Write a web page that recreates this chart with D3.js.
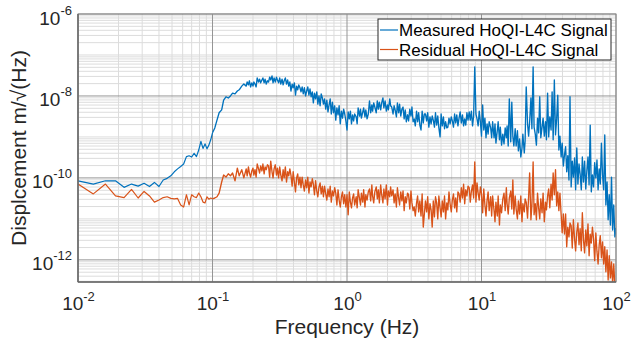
<!DOCTYPE html>
<html><head><meta charset="utf-8">
<script src="https://cdn.jsdelivr.net/npm/d3@7"></script>
<style>body{margin:0;background:#fff}svg{display:block;font-family:"Liberation Sans",Arial,Helvetica,sans-serif}</style>
</head><body><svg id="c" width="632" height="339"></svg>
<script>
// ---- data (frequency in Hz, amplitude as log10 of m/sqrt(Hz)) ----
const frequencies = [
0.010,0.013,0.016,0.019,0.022,0.025,0.028,0.031,0.034,0.037,
0.040,0.043,0.046,0.049,0.052,0.055,0.058,0.061,0.064,0.067,
0.070,0.073,0.076,0.079,0.082,0.085,0.088,0.091,0.094,0.097,
0.100,0.104,0.108,0.112,0.117,0.121,0.126,0.131,0.136,0.141,0.147,0.153,0.158,0.165,0.171,
0.178,0.181,0.185,0.188,0.192,0.196,0.200,0.203,0.207,0.211,
0.215,0.220,0.224,0.228,0.233,0.237,0.242,0.246,0.251,0.256,
0.261,0.266,0.271,0.277,0.282,0.287,0.293,0.299,0.304,0.310,
0.316,0.322,0.329,0.335,0.341,0.348,0.355,0.362,0.369,0.376,
0.383,0.391,0.398,0.406,0.414,0.422,0.430,0.438,0.447,0.455,
0.464,0.473,0.482,0.492,0.501,0.511,0.521,0.531,0.541,0.552,
0.562,0.573,0.584,0.596,0.607,0.619,0.631,0.643,0.656,0.668,
0.681,0.695,0.708,0.722,0.736,0.750,0.764,0.779,0.794,0.810,
0.825,0.841,0.858,0.874,0.891,0.909,0.926,0.944,0.962,0.981,
1.00,1.02,1.04,1.06,1.08,1.10,1.12,1.14,1.17,1.19,1.21,1.24,1.26,1.28,1.31,1.33,1.36,1.38,1.41,1.44,
1.47,1.50,1.53,1.55,1.58,1.61,1.65,1.68,1.71,1.74,1.78,1.81,1.85,1.88,1.92,1.96,2.00,2.03,2.08,2.11,
2.15,2.20,2.24,2.28,2.33,2.37,2.42,2.46,2.51,2.56,2.61,2.66,2.71,2.76,2.82,2.87,2.93,2.99,3.04,3.10,
3.16,3.22,3.29,3.35,3.41,3.48,3.55,3.62,3.69,3.76,3.83,3.91,3.98,4.06,4.14,4.22,4.30,4.38,4.47,4.55,
4.64,4.73,4.82,4.92,5.01,5.11,5.21,5.31,5.41,5.52,5.62,5.73,5.84,5.96,6.07,6.19,6.31,6.43,6.55,6.68,
6.81,6.94,7.08,7.22,7.36,7.50,7.64,7.79,7.94,8.10,8.25,8.41,8.58,8.74,8.91,9.09,9.26,9.44,9.62,9.81,
10.0,10.2,10.4,10.6,10.8,11.0,11.2,11.4,11.7,11.9,12.1,12.4,12.6,12.8,13.1,13.3,13.6,13.8,14.1,14.4,
14.7,15.0,15.3,15.5,15.8,16.1,16.5,16.8,17.1,17.4,17.8,18.1,18.5,18.8,19.2,19.6,20.0,20.3,20.8,21.1,
21.5,22.0,22.4,22.8,23.3,23.7,24.2,24.6,25.1,25.6,26.1,26.6,27.1,27.6,28.2,28.7,29.3,29.9,30.4,31.0,
31.6,32.2,32.9,33.5,34.1,34.8,35.5,36.2,36.9,37.6,38.3,39.1,39.8,40.6,41.4,42.2,43.0,43.8,44.7,45.5,
46.4,47.3,48.2,49.2,50.1,51.1,52.1,53.1,54.1,55.2,56.2,57.3,58.4,59.6,60.7,61.9,63.1,64.3,65.5,66.8,
68.1,69.4,70.8,72.2,73.6,75.0,76.4,77.9,79.4,81.0,82.5,84.1,85.8,87.4,89.1,90.9,92.6,94.4,96.2,98.1,100
];
const measuredLog10 = [
-10.07,-10.15,-10.07,-10.07,-10.23,-10.15,-10.20,-10.13,-10.21,-10.11,
-10.21,-10.05,-10.01,-9.95,-9.85,-9.78,-9.72,-9.66,-9.48,-9.46,
-9.49,-9.40,-9.48,-9.32,-9.11,-9.28,-9.17,-9.29,-9.20,-9.07,
-8.90,-8.78,-8.59,-8.41,-8.34,-8.10,-8.02,-8.05,-8.00,-7.93,-7.95,-7.88,-7.85,-7.76,-7.71,
-7.76,-7.66,-7.73,-7.63,-7.78,-7.68,-7.76,-7.66,-7.71,-7.78,
-7.56,-7.66,-7.59,-7.68,-7.61,-7.56,-7.68,-7.59,-7.71,-7.63,
-7.66,-7.54,-7.61,-7.51,-7.68,-7.56,-7.66,-7.54,-7.61,-7.68,
-7.56,-7.71,-7.59,-7.73,-7.63,-7.56,-7.71,-7.61,-7.76,-7.66,
-7.88,-7.71,-7.80,-7.68,-7.98,-7.76,-7.85,-7.73,-7.80,-7.90,
-7.78,-7.95,-7.80,-8.00,-7.88,-7.78,-7.98,-7.83,-8.02,-7.90,
-8.17,-7.93,-8.07,-7.90,-8.20,-8.00,-8.24,-7.95,-8.05,-8.20,
-8.07,-8.32,-8.10,-8.39,-8.22,-8.07,-8.44,-8.15,-8.41,-8.24,
-8.59,-8.29,-8.46,-8.24,-8.68,-8.37,-8.54,-8.32,-8.44,-8.61,
-8.83,-8.39,-8.56,-8.37,-8.68,-8.46,-8.61,-8.44,-8.51,-8.68,
-8.29,-8.49,-8.32,-8.54,-8.39,-8.29,-8.51,-8.34,-8.56,-8.44,
-8.12,-8.41,-8.22,-8.37,-8.17,-8.27,-8.41,-8.12,-8.32,-8.15,
-8.34,-8.17,-8.05,-8.29,-8.12,-8.37,-8.22,-8.34,-8.07,-8.24,
-8.27,-8.44,-8.24,-8.34,-8.51,-8.17,-8.41,-8.20,-8.49,-8.32,
-8.27,-8.56,-8.34,-8.63,-8.46,-8.61,-8.32,-8.49,-8.27,-8.63,
-8.56,-8.73,-8.37,-8.63,-8.41,-8.71,-8.83,-8.37,-8.66,-8.44,
-8.44,-8.61,-8.41,-8.76,-8.51,-8.68,-8.49,-8.59,-8.76,-8.41,
-8.71,-8.49,-8.78,-9.00,-8.44,-8.73,-8.51,-8.80,-8.63,-8.78,
-8.76,-8.54,-8.68,-8.51,-8.61,-8.76,-8.44,-8.66,-8.46,-8.73,
-8.54,-8.39,-8.66,-8.46,-8.73,-8.56,-8.71,-8.41,-8.59,-8.39,
-8.59,-8.37,-8.73,-8.49,-7.29,-8.44,-8.56,-8.73,-8.37,-8.63,
-8.98,-8.22,-8.83,-8.54,-9.02,-8.68,-8.93,-8.63,-8.78,-9.02,
-8.63,-9.02,-8.68,-9.15,-8.85,-8.63,-9.07,-8.76,-9.20,-8.93,
-9.17,-8.78,-9.02,-8.73,-9.22,-8.07,-9.12,-8.15,-8.98,-9.22,
-8.80,-9.22,-8.85,-9.34,-9.05,-9.49,-9.27,-8.93,-9.39,-9.10,
-7.78,-8.68,-8.98,-8.63,-8.05,-8.80,-7.29,-8.76,-8.93,-9.20,
-8.54,-8.90,-8.02,-9.02,-8.76,-8.54,-8.98,-8.63,-9.07,-7.93,
-9.00,-8.51,-8.83,-7.90,-9.07,-7.61,-8.95,-8.56,-7.98,-9.32,
-8.98,-9.49,-9.15,-9.71,-9.44,-9.24,-9.85,-9.46,-10.05,-8.02,
-10.22,-9.59,-9.98,-9.51,-10.29,-9.27,-10.15,-9.66,-9.90,-10.29,
-9.49,-10.10,-9.59,-10.27,-9.83,-9.49,-10.17,-8.71,-10.34,-9.93,
-10.22,-9.63,-10.00,-9.56,-10.29,-9.78,-10.15,-9.15,-9.93,-10.29,
-8.95,-10.66,-10.10,-11.02,-10.41,-11.15,-9.98,-11.27,-10.66,-11.44,-11.22
];
const residualLog10 = [
-10.15,-10.39,-10.15,-10.44,-10.48,-10.28,-10.49,-10.33,-10.44,-10.59,
-10.54,-10.48,-10.46,-10.50,-10.51,-10.50,-10.66,-10.71,-10.41,-10.66,
-10.41,-10.46,-10.48,-10.37,-10.46,-10.59,-10.61,-10.46,-10.52,-10.49,
-10.51,-10.49,-10.46,-10.37,-10.10,-9.93,-9.98,-9.90,-9.95,-9.88,-10.07,-9.76,-9.95,-9.80,-10.00,
-9.78,-9.95,-9.73,-9.88,-9.98,-9.83,-9.76,-9.93,-9.80,-9.98,
-9.66,-9.78,-9.88,-9.71,-9.83,-9.66,-9.90,-9.73,-9.80,-9.68,
-9.71,-9.98,-9.59,-9.85,-10.00,-9.78,-9.68,-9.93,-9.76,-10.00,
-9.73,-9.93,-10.07,-9.80,-10.00,-9.73,-10.10,-9.85,-9.95,-9.78,
-9.93,-10.20,-9.85,-10.10,-10.34,-10.00,-9.90,-10.17,-9.98,-10.24,
-9.98,-10.17,-10.32,-10.05,-10.24,-9.98,-10.37,-10.10,-10.22,-10.02,
-10.15,-10.41,-10.07,-10.32,-10.46,-10.22,-10.12,-10.39,-10.20,-10.46,
-10.20,-10.39,-10.54,-10.27,-10.46,-10.20,-10.59,-10.32,-10.44,-10.24,
-10.37,-10.66,-10.29,-10.54,-10.71,-10.46,-10.34,-10.63,-10.41,-10.71,
-10.41,-10.90,-10.34,-10.59,-10.73,-10.49,-10.39,-10.66,-10.46,-10.73,
-10.29,-10.51,-10.66,-10.37,-10.59,-10.29,-10.71,-10.41,-10.54,-10.34,
-10.27,-10.56,-10.17,-10.44,-10.61,-10.34,-10.22,-10.51,-10.29,-10.61,
-10.17,-10.41,-10.61,-10.27,-10.51,-10.17,-10.66,-10.32,-10.46,-10.22,
-10.44,-10.29,-10.61,-10.39,-10.71,-10.24,-10.49,-10.66,-10.34,-10.56,
-10.32,-10.80,-10.46,-10.61,-10.37,-10.41,-10.76,-10.32,-10.61,-10.80,
-10.71,-10.93,-10.61,-10.44,-10.83,-10.56,-10.93,-10.39,-11.20,-10.88,
-10.56,-10.83,-10.46,-11.00,-10.63,-10.78,-11.20,-10.56,-10.95,-10.46,
-10.61,-11.00,-10.44,-10.73,-10.95,-10.56,-10.83,-10.44,-11.00,-10.61,
-10.78,-10.34,-10.63,-10.83,-10.54,-10.39,-10.73,-10.49,-10.83,-10.34,
-10.39,-10.59,-10.24,-10.49,-10.15,-10.63,-10.29,-10.44,-10.20,-10.24,
-10.59,-10.32,-10.17,-10.49,-9.61,-10.59,-10.12,-10.37,-10.54,-10.22,
-10.39,-10.85,-10.27,-10.66,-10.93,-10.54,-10.34,-10.80,-10.46,-10.93,
-10.44,-10.80,-11.07,-10.59,-10.93,-10.44,-11.15,-10.66,-10.85,-10.51,
-10.37,-10.80,-10.24,-10.63,-10.88,-10.49,-10.32,-10.76,-10.05,-10.88,
-10.44,-10.76,-11.00,-10.56,-10.88,-10.44,-11.07,-10.63,-10.83,-10.51,
-10.59,-10.98,-10.46,-9.88,-11.02,-10.68,-9.61,-10.90,-10.63,-11.02,
-10.37,-10.73,-11.00,-10.51,-10.85,-10.37,-11.07,-10.59,-10.78,-10.44,
-10.27,-10.73,-10.15,-10.54,-9.88,-10.41,-9.80,-10.68,-10.34,-10.80,
-10.37,-10.90,-11.34,-10.88,-11.37,-10.88,-11.68,-11.20,-11.44,-11.10,
-11.17,-11.71,-11.02,-11.49,-11.78,-11.32,-11.10,-11.63,-11.24,-11.78,
-10.85,-11.51,-11.83,-11.27,-11.66,-11.12,-11.90,-11.37,-11.59,-11.20,
-11.49,-12.02,-11.34,-11.80,-12.10,-11.63,-11.41,-11.95,-11.56,-12.10,
-11.68,-12.29,-11.76,-12.49,-11.90,-12.44,-12.05,-12.59,-12.10,-12.63,-12.56
];
const seriesNames = ["Measured HoQI-L4C Signal", "Residual HoQI-L4C Signal"];
const seriesColors = ["#0072BD", "#D95319"];
const xTickExponents = [-2, -1, 0, 1, 2];
const yTickExponents = [-12, -10, -8, -6];
const xLabel = "Frequency (Hz)";
const yLabel = "Displcement m/\u221A(Hz)";

if (measuredLog10.length !== frequencies.length || residualLog10.length !== frequencies.length)
  console.error("length mismatch", frequencies.length, measuredLog10.length, residualLog10.length);

// ---- layout ----
const L = 78, R = 616, T = 14, B = 282;
const svg = d3.select("#c");
const x = d3.scaleLog().domain([1e-2, 1e2]).range([L, R]);
const y = d3.scaleLog().domain([Math.pow(10, -12.54), 1e-6]).range([B, T]);

// grid
const minorX = [], minorY = [];
for (let k = -2; k < 2; k++) for (let m = 2; m <= 9; m++) minorX.push(m * Math.pow(10, k));
for (let k = -13; k < -6; k++) for (let m = 1; m <= 9; m++) {
  const v = m * Math.pow(10, k);
  if (m === 1 && yTickExponents.includes(k)) continue;
  if (v > y.domain()[0] && v < 1e-6) minorY.push(v);
}
const grid = svg.append("g");
grid.selectAll("line.mx").data(minorX).join("line")
  .attr("x1", d => x(d)).attr("x2", d => x(d)).attr("y1", T).attr("y2", B)
  .attr("stroke", "#dcdcdc").attr("stroke-width", 1);
grid.selectAll("line.my").data(minorY).join("line")
  .attr("y1", d => y(d)).attr("y2", d => y(d)).attr("x1", L).attr("x2", R)
  .attr("stroke", "#dcdcdc").attr("stroke-width", 1);
grid.selectAll("line.Mx").data(xTickExponents.map(e => Math.pow(10, e))).join("line")
  .attr("x1", d => x(d)).attr("x2", d => x(d)).attr("y1", T).attr("y2", B)
  .attr("stroke", "#959595").attr("stroke-width", 1);
grid.selectAll("line.My").data(yTickExponents.map(e => Math.pow(10, e))).join("line")
  .attr("y1", d => y(d)).attr("y2", d => y(d)).attr("x1", L).attr("x2", R)
  .attr("stroke", "#959595").attr("stroke-width", 1);

// data lines
svg.append("clipPath").attr("id", "clip").append("rect")
  .attr("x", L).attr("y", T).attr("width", R - L).attr("height", B - T);
const line = d3.line().x(d => x(d[0])).y(d => y(d[1]));
const s1 = frequencies.indexOf(0.100);
[measuredLog10, residualLog10].forEach((vals, i) => {
  const pts = frequencies.map((f, j) => [f, Math.pow(10, vals[j])]);
  const g = svg.append("g").attr("clip-path", "url(#clip)")
    .attr("fill", "none").attr("stroke", seriesColors[i]).attr("stroke-linejoin", "round");
  g.append("path").attr("d", line(pts.slice(0, s1 + 1))).attr("stroke-width", 1.2);
  g.append("path").attr("d", line(pts.slice(s1))).attr("stroke-width", 1.35);
});

// box
svg.append("rect").attr("x", L).attr("y", T).attr("width", R - L).attr("height", B - T)
  .attr("fill", "none").attr("stroke", "#8a8a8a").attr("stroke-width", 1);
svg.append("line").attr("x1", L).attr("x2", L).attr("y1", T).attr("y2", B)
  .attr("stroke", "#666").attr("stroke-width", 1.4);
svg.append("line").attr("x1", L).attr("x2", R).attr("y1", B).attr("y2", B)
  .attr("stroke", "#666").attr("stroke-width", 1.4);

// axes with superscript labels
const tickFont = 19, expFont = 13, txtCol = "#262626";
const gx = svg.append("g").attr("transform", `translate(0,${B})`)
  .call(d3.axisBottom(x).tickValues(xTickExponents.map(e => Math.pow(10, e))).tickSize(0).tickFormat(() => ""));
gx.attr("font-family", null).attr("font-size", null);
gx.select(".domain").remove();
gx.selectAll(".tick text").each(function (d) {
  const t = d3.select(this).attr("y", 28).attr("dy", null).attr("fill", txtCol)
    .attr("font-size", tickFont).attr("text-anchor", "middle");
  t.append("tspan").text("10");
  t.append("tspan").attr("dy", -9).attr("font-size", expFont).text(Math.round(Math.log10(d)));
});
const gy = svg.append("g").attr("transform", `translate(${L},0)`)
  .call(d3.axisLeft(y).tickValues(yTickExponents.map(e => Math.pow(10, e))).tickSize(0).tickFormat(() => ""));
gy.attr("font-family", null).attr("font-size", null);
gy.select(".domain").remove();
gy.selectAll(".tick text").each(function (d) {
  const t = d3.select(this).attr("x", -6).attr("y", 10).attr("dy", null).attr("fill", txtCol)
    .attr("font-size", tickFont).attr("text-anchor", "end");
  t.append("tspan").text("10");
  t.append("tspan").attr("dy", -10).attr("font-size", expFont).text(Math.round(Math.log10(d)));
});

// axis titles
svg.append("text").attr("x", (L + R) / 2).attr("y", 334).attr("text-anchor", "middle")
  .attr("font-size", 21).attr("fill", txtCol).text(xLabel);
svg.append("text").attr("transform", `translate(26,${(T + B) / 2}) rotate(-90)`)
  .attr("text-anchor", "middle").attr("font-size", 21).attr("fill", txtCol).text(yLabel);

// legend
const lg = svg.append("g");
lg.append("rect").attr("x", 378).attr("y", 19).attr("width", 233).attr("height", 41)
  .attr("fill", "#fff").attr("stroke", "#262626").attr("stroke-width", 1);
seriesNames.forEach((n, i) => {
  const cy = 30 + i * 19.5;
  lg.append("line").attr("x1", 380).attr("x2", 398).attr("y1", cy).attr("y2", cy)
    .attr("stroke", seriesColors[i]).attr("stroke-width", 1.2);
  lg.append("text").attr("x", 399).attr("y", cy + 6).attr("font-size", 17).attr("fill", "#000").text(n);
});
</script></body></html>
